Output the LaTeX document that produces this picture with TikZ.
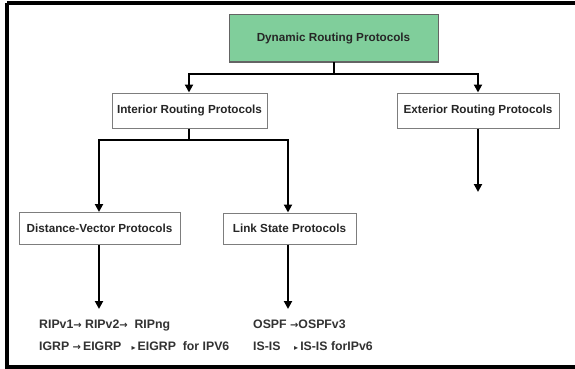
\documentclass[tikz,border=0pt]{standalone}
\usepackage{fontspec}
\setmainfont{Liberation Sans}
\newfontfamily\symfont{DejaVu Sans}
\usetikzlibrary{arrows.meta}
\definecolor{boxgreen}{RGB}{128,206,155}
\definecolor{boxline}{RGB}{125,125,125}
\definecolor{txt}{RGB}{38,38,38}
\definecolor{lowtxt}{RGB}{50,50,50}
\newcommand{\rarr}{{\symfont\fontsize{10}{10}\selectfont →}}
\newcommand{\rtip}{{\symfont\fontsize{8}{8}\selectfont ▸}}
\tikzset{
  box/.style={draw=boxline, line width=1pt, fill=white, inner sep=0pt,
    font=\fontsize{11.7}{13}\selectfont\bfseries, text=txt},
  conn/.style={line width=2pt, black},
  arr/.style={conn, -{Triangle[length=8pt,width=8pt]}},
  lowtext/.style={anchor=base west, inner sep=0pt,
    font=\fontsize{12.3}{14}\selectfont\bfseries, text=lowtxt},
  frame/.style={line width=4pt, black}
}
\begin{document}
\begin{tikzpicture}[x=1pt,y=-1pt]
\useasboundingbox (0,0) rectangle (575,369);
\fill[white] (0,0) rectangle (575,369);
\draw[frame] (7,3.5) -- (585,3.5) (7,3.5) -- (7,367) -- (585,367);

\node[box, fill=boxgreen, draw=boxline!80!black, minimum width=209pt, minimum height=47pt] (dyn) at (333.5,38.5) {Dynamic Routing Protocols};
\node[box, minimum width=155pt, minimum height=35pt] (int) at (189.5,110.5) {Interior Routing Protocols};
\node[box, minimum width=162pt, minimum height=35pt] (ext) at (478,110.5) {Exterior Routing Protocols};
\node[box, minimum width=161pt, minimum height=32pt] (dv) at (99.5,228.5) {Distance-Vector Protocols};
\node[box, minimum width=133pt, minimum height=31pt] (ls) at (289.5,228.5) {Link State Protocols};

\coordinate (j1) at (334,74);
\coordinate (j2) at (189,140);
\coordinate (extend) at (478,192);
\coordinate (dvend) at (99,309);
\coordinate (lsend) at (288,309);

\draw[conn] (dyn.south -| j1) -- (j1);
\draw[arr] (j1) -| (int.north -| 189,0);
\draw[arr] (j1) -| (ext.north);
\draw[arr] (ext.south) -- (extend);
\draw[conn] (int.south -| j2) -- (j2);
\draw[arr] (j2) -| (dv.north -| 99,0);
\draw[arr] (j2) -| (ls.north -| 288,0);
\draw[arr] (dv.south -| dvend) -- (dvend);
\draw[arr] (ls.south -| lsend) -- (lsend);

\node[lowtext] (r1) at (39,328.5) {RIPv1\rarr\ RIPv2\rarr\ \ RIPng};
\node[lowtext] (r2) at (39,350.5) {IGRP\ \rarr\,EIGRP\ \ \ \rtip\,EIGRP\ \ for IPV6};
\node[lowtext] (r3) at (253,328.5) {OSPF\ \rarr OSPFv3};
\node[lowtext] (r4) at (253,350.5) {IS-IS\ \ \ \ \rtip\,IS-IS forIPv6};
\end{tikzpicture}
\end{document}
